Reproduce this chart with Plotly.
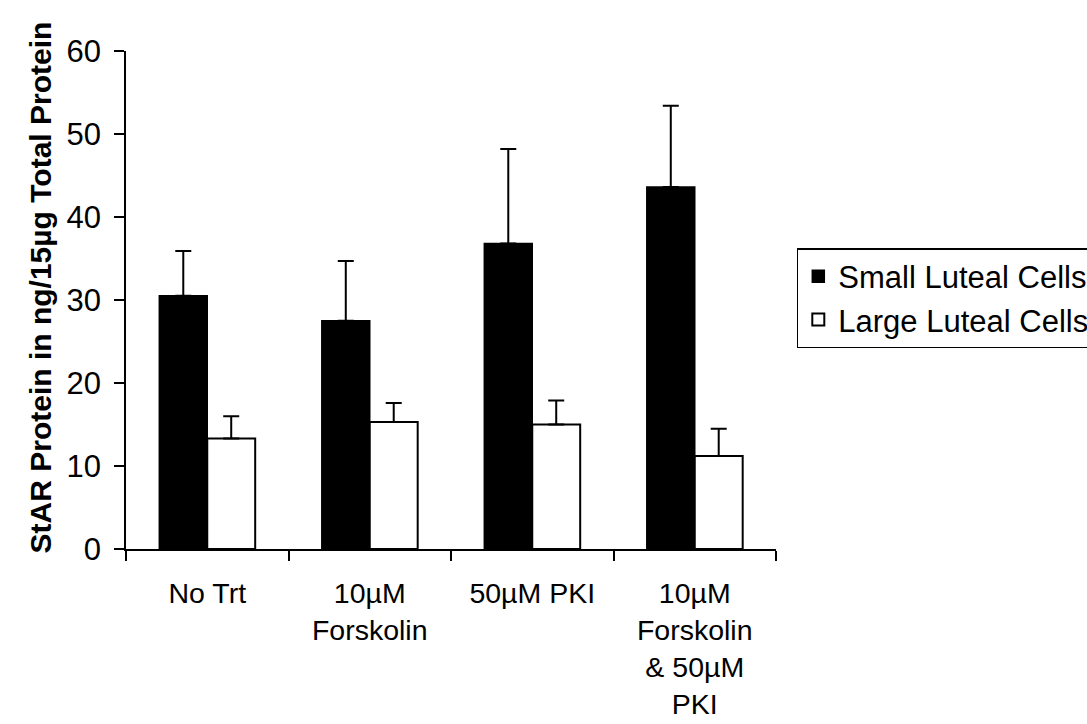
import plotly.graph_objects as go

categories = ["No Trt", "10µM<br>Forskolin", "50µM PKI", "10µM<br>Forskolin<br>& 50µM<br>PKI"]
small_vals = [30.5, 27.5, 36.8, 43.6]
small_err_top = [35.9, 34.7, 48.2, 53.4]
large_vals = [13.3, 15.3, 15.0, 11.2]
large_err_top = [16.0, 17.6, 17.9, 14.5]
y_ticks = [0, 10, 20, 30, 40, 50, 60]

FONT = "Arial, Liberation Sans, sans-serif"
FS = 31

small_plus = [t - v for t, v in zip(small_err_top, small_vals)]
large_plus = [t - v for t, v in zip(large_err_top, large_vals)]

fig = go.Figure()
fig.add_trace(go.Bar(
    name="Small Luteal Cells", x=categories, y=small_vals,
    marker=dict(color="black", line=dict(color="black", width=1.5)),
    error_y=dict(type="data", symmetric=False, array=small_plus,
                 arrayminus=[0] * len(small_vals), color="black",
                 thickness=2, width=8),
))
fig.add_trace(go.Bar(
    name="Large Luteal Cells", x=categories, y=large_vals,
    marker=dict(color="white", line=dict(color="black", width=2)),
    error_y=dict(type="data", symmetric=False, array=large_plus,
                 arrayminus=[0] * len(large_vals), color="black",
                 thickness=2, width=8),
))

fig.update_layout(
    width=1087, height=724,
    margin=dict(l=126, r=311, t=51, b=175, autoexpand=False),
    paper_bgcolor="white", plot_bgcolor="white",
    barmode="group", bargap=0.41, bargroupgap=0,
    font=dict(family=FONT, size=FS, color="black"),
    showlegend=True,
    legend=dict(x=1.032, xanchor="left", y=0.504, yanchor="middle",
                bgcolor="white", bordercolor="black", borderwidth=1.5,
                font=dict(family=FONT, size=FS, color="black"),
                itemwidth=30, tracegroupgap=0),
    annotations=[dict(
        text="StAR Protein in ng/15µg Total Protein", textangle=-90,
        xref="paper", yref="paper", x=-0.131, y=0.525,
        xanchor="center", yanchor="middle", showarrow=False,
        font=dict(family=FONT, size=30, color="black", weight="bold"),
    )],
)
fig.update_xaxes(
    automargin=False,
    showline=True, linecolor="black", linewidth=1.5,
    ticks="outside", ticklen=10, tickcolor="black", tickwidth=1.5,
    tickson="boundaries", showgrid=False, zeroline=False,
    ticklabelstandoff=18,
    tickfont=dict(family=FONT, size=28.5, color="black"),
)
fig.update_yaxes(
    automargin=False,
    range=[0, 60], tickvals=y_ticks, ticktext=[str(v) for v in y_ticks],
    showline=True, linecolor="black", linewidth=1.5,
    ticks="outside", ticklen=10, tickcolor="black", tickwidth=1.5,
    showgrid=False, zeroline=False, ticklabelstandoff=7,
    tickfont=dict(family=FONT, size=FS, color="black"),
)

fig.write_html("out.html")
